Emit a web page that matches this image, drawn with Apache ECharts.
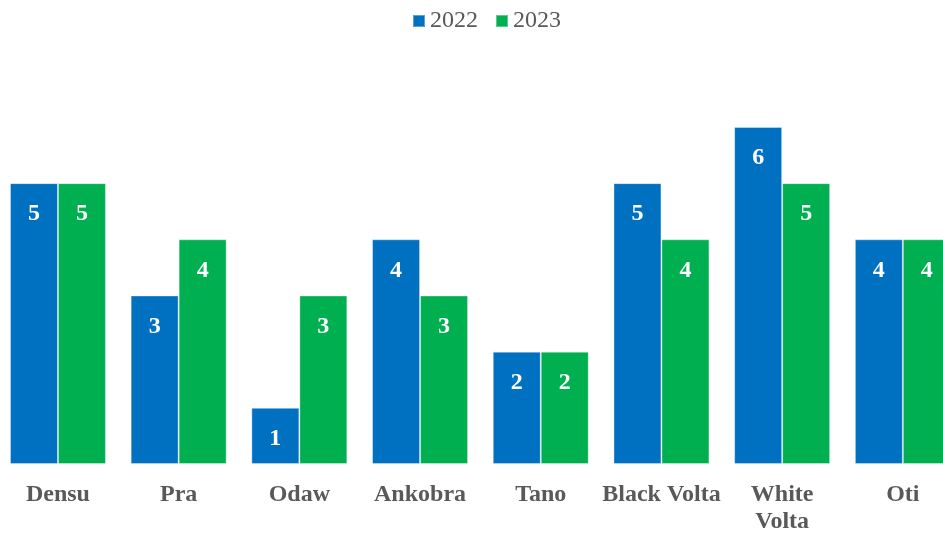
<!DOCTYPE html>
<html>
<head>
<meta charset="utf-8">
<script src="https://cdn.jsdelivr.net/npm/echarts@6/dist/echarts.min.js"></script>
<style>
  html, body { margin: 0; padding: 0; background: #ffffff; }
  #chart { width: 943px; height: 533px; }
</style>
</head>
<body>
<div id="chart"></div>
<script>
// River basins and yearly counts
const categories = ['Densu', 'Pra', 'Odaw', 'Ankobra', 'Tano', 'Black Volta', 'White\nVolta', 'Oti'];
const values2022 = [5, 3, 1, 4, 2, 5, 6, 4];
const values2023 = [5, 4, 3, 3, 2, 4, 5, 4];
const seriesNames = ['2022', '2023'];

const FONT = '"Liberation Serif", "Times New Roman", serif';
const GRAY = '#595959';

const labelStyle = {
  show: true,
  position: 'insideTop',
  distance: 19,
  color: '#ffffff',
  fontFamily: FONT,
  fontWeight: 'bold',
  fontSize: 24
};

const chart = echarts.init(document.getElementById('chart'), null, { renderer: 'canvas' });
chart.setOption({
  animation: false,
  textStyle: { fontFamily: FONT },
  legend: {
    top: 4,
    left: 407,
    itemWidth: 12,
    itemHeight: 12,
    itemGap: 17,
    icon: 'rect',
    textStyle: { fontFamily: FONT, fontSize: 24, color: GRAY },
    data: seriesNames
  },
  // plot area runs slightly past both canvas edges
  grid: {
    left: -2.4, top: 70.8, width: 965.6, height: 393.2,
    containLabel: false, outerBoundsMode: 'none'
  },
  xAxis: {
    type: 'category',
    data: categories,
    axisLine: { show: false },
    axisTick: { show: false },
    axisLabel: {
      interval: 0,
      margin: 17,
      fontFamily: FONT,
      fontSize: 24,
      fontWeight: 'bold',
      color: GRAY,
      lineHeight: 27
    }
  },
  yAxis: {
    type: 'value',
    min: 0,
    max: 7,
    interval: 1,
    show: false,
    splitLine: { show: false }
  },
  series: [
    {
      name: seriesNames[0],
      type: 'bar',
      data: values2022,
      barGap: '0%',
      barCategoryGap: '20.5%',
      itemStyle: { color: '#0070C0', borderColor: 'rgba(255,255,255,0.35)', borderWidth: 1 },
      label: labelStyle
    },
    {
      name: seriesNames[1],
      type: 'bar',
      data: values2023,
      barGap: '0%',
      barCategoryGap: '20.5%',
      itemStyle: { color: '#00B050', borderColor: 'rgba(255,255,255,0.35)', borderWidth: 1 },
      label: labelStyle
    }
  ]
});
</script>
</body>
</html>
